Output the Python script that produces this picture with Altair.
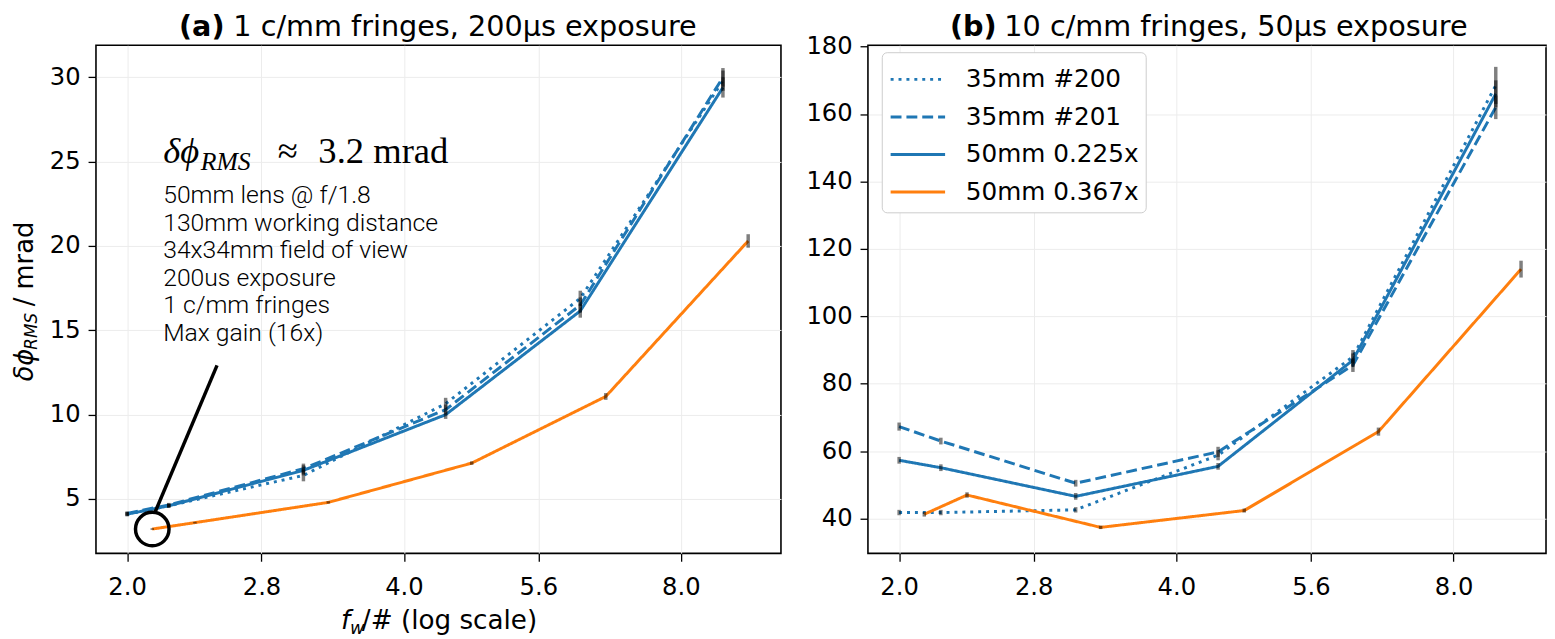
import altair as alt
import pandas as pd

# ---------------- data ----------------
SERIES = ["35mm #200", "35mm #201", "50mm 0.225x", "50mm 0.367x"]
SERIES_COLORS = ["#1f77b4", "#1f77b4", "#1f77b4", "#ff7f0e"]
SERIES_DASH = [[3, 5], [11, 5], [1, 0], [1, 0]]

# working f-number (f_w/#) of each measurement
FW_BLUE = [2.0, 2.22, 3.11, 4.44, 6.22, 8.89]      # 35mm #200, 35mm #201, 50mm 0.225x
FW_ORANGE = [2.13, 2.37, 3.31, 4.74, 6.63, 9.47]   # 50mm 0.367x

# panel (a): 1 c/mm fringes, 200us exposure  (mrad)
A_200 = [4.1, 4.6, 6.4, 10.65, 16.9, 29.8]
A_200_ERR = [0.12, 0.12, 0.35, 0.35, 0.45, 0.6]
A_201 = [4.15, 4.65, 6.8, 10.3, 16.5, 30.0]
A_201_ERR = [0.12, 0.12, 0.3, 0.3, 0.45, 0.55]
A_225 = [4.1, 4.6, 6.7, 10.0, 16.15, 29.4]
A_225_ERR = [0.12, 0.12, 0.3, 0.25, 0.4, 0.6]
A_367 = [3.22, 3.6, 4.8, 7.13, 11.08, 20.3]
A_367_ERR = [0.05, 0.05, 0.07, 0.1, 0.2, 0.4]

# panel (b): 10 c/mm fringes, 50us exposure  (mrad)
B_200 = [41.8, 41.8, 42.6, 58.8, 88.0, 168.5]
B_200_ERR = [0.8, 0.8, 0.8, 1.5, 2.0, 5.5]
B_201 = [67.3, 63.0, 50.5, 59.8, 85.5, 162.0]
B_201_ERR = [1.2, 1.0, 1.0, 1.5, 2.0, 3.5]
B_225 = [57.3, 55.1, 46.6, 55.5, 87.0, 166.0]
B_225_ERR = [1.0, 1.0, 1.0, 1.0, 2.0, 4.0]
B_367 = [41.3, 47.0, 37.4, 42.4, 65.8, 114.0]
B_367_ERR = [0.7, 0.8, 0.5, 0.6, 1.2, 2.5]

X_TICKS = [2.0, 2.8, 4.0, 5.6, 8.0]
A_Y_TICKS = [5, 10, 15, 20, 25, 30]
B_Y_TICKS = [40, 60, 80, 100, 120, 140, 160, 180]

A_X_DOMAIN = [1.85, 10.28]
B_X_DOMAIN = [1.85, 10.08]
A_Y_DOMAIN = [1.78, 31.9]
B_Y_DOMAIN = [29.7, 180.4]

# annotation of the best point in panel (a)
ANNOT_LINE_X = [2.505, 2.143]
ANNOT_LINE_Y = [12.92, 4.17]
ANNOT_POINT_X = [2.13]
ANNOT_POINT_Y = [3.22]
ANNOT_LINES = ["50mm lens @ f/1.8", "130mm working distance", "34x34mm field of view",
               "200us exposure", "1 c/mm fringes", "Max gain (16x)"]

TITLE_A = ["(a)", "1 c/mm fringes, 200\u03bcs exposure"]
TITLE_B = ["(b)", "10 c/mm fringes, 50\u03bcs exposure"]

PLOT_H = 514
A_W = 693
B_W = 686

SANS = "DejaVu Sans"
SERIF = "Liberation Serif"
TITLE_SIZE = 29
TITLE_Y = -9.5


def frame(vals, errs):
    rows = []
    fws = [FW_BLUE, FW_BLUE, FW_BLUE, FW_ORANGE]
    for name, fw, v, e in zip(SERIES, fws, vals, errs):
        for x, y, d in zip(fw, v, e):
            rows.append({"series": name, "fw": x, "val": y, "lo": y - d, "hi": y + d})
    return pd.DataFrame(rows)


DF_A = frame([A_200, A_201, A_225, A_367], [A_200_ERR, A_201_ERR, A_225_ERR, A_367_ERR])
DF_B = frame([B_200, B_201, B_225, B_367], [B_200_ERR, B_201_ERR, B_225_ERR, B_367_ERR])


def xenc(field, dom):
    return alt.X(field, type="quantitative",
                 scale=alt.Scale(type="log", domain=dom, nice=False, zero=False),
                 axis=alt.Axis(values=X_TICKS, format=".1f", title=None, labelPadding=15))


def yenc(field, dom, ticks):
    return alt.Y(field, type="quantitative",
                 scale=alt.Scale(domain=dom, nice=False, zero=False),
                 axis=alt.Axis(values=ticks, format="d", title=None, labelPadding=8))


def txt(text, x, y, size, font=SANS, weight="normal", style="normal", align="left",
        angle=0, baseline="alphabetic", **kw):
    return alt.Chart(alt.Data(values=[{}])).mark_text(
        text=text, font=font, fontSize=size, fontWeight=weight, fontStyle=style,
        align=align, baseline=baseline, angle=angle, color="black", **kw
    ).encode(x=alt.value(x), y=alt.value(y))


def panel(df, xdom, ydom, yticks, legend, title, title_x):
    color = alt.Color("series:N", scale=alt.Scale(domain=SERIES, range=SERIES_COLORS),
                      legend=legend)
    dash = alt.StrokeDash("series:N", scale=alt.Scale(domain=SERIES, range=SERIES_DASH),
                          legend=legend)
    base = alt.Chart(df)
    lines = base.mark_line(strokeWidth=3, clip=True).encode(
        x=xenc("fw", xdom), y=yenc("val", ydom, yticks), color=color, strokeDash=dash)
    errs = base.mark_rule(color="black", opacity=0.5, strokeWidth=3.5).encode(
        x=xenc("fw", xdom), y=yenc("lo", ydom, yticks), y2="hi:Q")
    t1 = txt(title[0], title_x, TITLE_Y, TITLE_SIZE, weight="bold")
    t2 = txt(title[1], title_x + 55, TITLE_Y, TITLE_SIZE)
    return [lines, errs, t1, t2]


# ---------------- panel (a) ----------------
layers_a = panel(DF_A, A_X_DOMAIN, A_Y_DOMAIN, A_Y_TICKS, None, TITLE_A, 84)

annot_df = pd.DataFrame({"fw": [ANNOT_LINE_X[0]], "fw2": [ANNOT_LINE_X[1]],
                         "val": [ANNOT_LINE_Y[0]], "val2": [ANNOT_LINE_Y[1]]})
pointer = alt.Chart(annot_df).mark_rule(color="black", strokeWidth=3.5).encode(
    x=xenc("fw", A_X_DOMAIN), x2="fw2:Q", y=yenc("val", A_Y_DOMAIN, A_Y_TICKS), y2="val2:Q")
circ_df = pd.DataFrame({"fw": ANNOT_POINT_X, "val": ANNOT_POINT_Y})
circle = alt.Chart(circ_df).mark_point(shape="circle", size=1150, filled=False,
                                       stroke="black", strokeWidth=3.5, opacity=1).encode(
    x=xenc("fw", A_X_DOMAIN), y=yenc("val", A_Y_DOMAIN, A_Y_TICKS))

f1 = txt("\u03b4\u03d5", 68, 119, 37, font=SERIF, style="italic")
f2 = txt("RMS", 106, 126, 26, font=SERIF, style="italic")
f3 = txt("\u2248", 184, 119, 37, font=SERIF)
f4 = txt("3.2 mrad", 225, 119, 37, font=SERIF)
block = txt("\n".join(ANNOT_LINES), 68, 160, 25, font="Roboto", weight=300,
            lineBreak="\n", lineHeight=27.8)

# y-axis title: δφ_RMS / mrad  (rotated)
yt1 = txt("\u03b4\u03d5", -64, 340, 26, style="italic", angle=270)
yt2 = txt("RMS", -60, 308, 17, style="italic", angle=270)
yt3 = txt("/ mrad", -64, 264, 26, angle=270)
# x-axis title: f_w/# (log scale)
xt1 = txt("f", 248, 591, 26.5, style="italic")
xt2 = txt("w", 257, 596, 18, style="italic")
xt3 = txt("/# (log scale)", 269, 591, 26.5)

chart_a = alt.layer(*layers_a, pointer, circle, f1, f2, f3, f4, block,
                    yt1, yt2, yt3, xt1, xt2, xt3).properties(width=A_W, height=PLOT_H)

# ---------------- panel (b) ----------------
leg = alt.Legend(orient="none", legendX=14, legendY=7, title=None,
                 symbolType="M-1.45,0H1.45", symbolSize=1444, symbolStrokeWidth=3,
                 symbolOffset=9, labelFontSize=25, labelFont=SANS,
                 labelColor="black", fillColor="white", strokeColor="#cccccc",
                 cornerRadius=5, padding=7, rowPadding=4, labelOffset=28, labelLimit=400)
layers_b = panel(DF_B, B_X_DOMAIN, B_Y_DOMAIN, B_Y_TICKS, leg, TITLE_B, 83)
chart_b = alt.layer(*layers_b).properties(width=B_W, height=PLOT_H)

chart = alt.hconcat(chart_a, chart_b, spacing=23,
                    padding={"left": 3, "top": 0, "right": 0, "bottom": 0}
).resolve_scale(
    x="independent", y="independent", color="independent", strokeDash="independent"
).resolve_legend(color="independent", strokeDash="independent"
).configure_view(stroke="black", strokeWidth=1.6
).configure_axis(
    labelFont=SANS, labelFontSize=24.5, labelColor="black", tickColor="black",
    tickSize=8, tickWidth=1.3, gridColor="#ececec", gridWidth=1,
    domain=False
).properties(background="white")

chart.save("out.html", embed_options={"renderer": "svg", "actions": False})
